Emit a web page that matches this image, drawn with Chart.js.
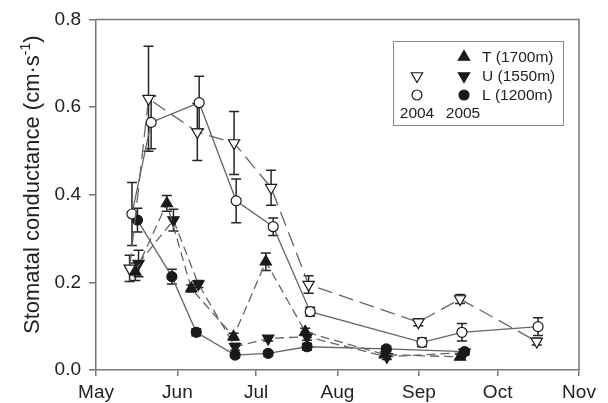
<!DOCTYPE html>
<html>
<head>
<meta charset="utf-8">
<script src="https://cdn.jsdelivr.net/npm/chart.js@4.4.0/dist/chart.umd.min.js"></script>
<style>
  html, body { margin: 0; padding: 0; background: #fff; }
  #wrap { width: 608px; height: 403px; position: relative; }
</style>
</head>
<body>
<div id="wrap"><canvas id="gsChart"></canvas></div>
<script>
// x values are days counted from 1 May
const monthNames = ['May', 'Jun', 'Jul', 'Aug', 'Sep', 'Oct', 'Nov'];
const monthStarts = [0, 31, 61, 92, 123, 153, 184];
const yTicks = [0, 0.2, 0.4, 0.6, 0.8];

// 2004, U (1550m), open triangle down
const u2004Days = [12.8, 20, 38.6, 52.6, 66.7, 81, 122.8, 138.7, 167.9];
const u2004Vals = [0.232, 0.619, 0.543, 0.518, 0.416, 0.195, 0.109, 0.162, 0.065];
const u2004Err = [0.03, 0.12, 0.065, 0.072, 0.04, 0.02, 0.008, 0.01, 0.008];

// 2004, L (1200m), open circle
const l2004Days = [13.7, 21, 39.3, 53.4, 67.5, 81.6, 124.2, 139.4, 168.4];
const l2004Vals = [0.356, 0.565, 0.61, 0.386, 0.327, 0.133, 0.063, 0.086, 0.099];
const l2004Err = [0.072, 0.06, 0.06, 0.05, 0.02, 0.01, 0.01, 0.02, 0.02];

// 2005, T (1700m), filled triangle up
const t2005Days = [15, 27, 36.3, 52.4, 64.7, 79.7, 110, 138.7];
const t2005Vals = [0.224, 0.38, 0.186, 0.076, 0.247, 0.087, 0.035, 0.03];
const t2005Err = [0.02, 0.018, 0.008, 0.008, 0.02, 0.008, 0.006, 0.006];

// 2005, U (1550m), filled triangle down
const u2005Days = [16.2, 29.5, 39, 53, 65.6, 80.4, 110.8, 140.4];
const u2005Vals = [0.243, 0.342, 0.196, 0.053, 0.072, 0.076, 0.03, 0.04];
const u2005Err = [0.03, 0.025, 0.008, 0.008, 0.006, 0.008, 0.006, 0.006];

// 2005, L (1200m), filled circle
const l2005Days = [15.8, 28.9, 38.2, 53, 65.6, 80.4, 110.6, 140.4];
const l2005Vals = [0.342, 0.213, 0.086, 0.034, 0.038, 0.053, 0.048, 0.042];
const l2005Err = [0.027, 0.017, 0.008, 0.006, 0.006, 0.008, 0.006, 0.006];

const FONT = "'Liberation Sans', Arial, sans-serif";
const AXIS = '#777';
const LINE = '#666';
const INK = '#1a1a1a';

function pts(xs, ys) {
  return xs.map((x, i) => ({ x: x, y: ys[i] }));
}

function series(label, xs, ys, errs, opts) {
  return Object.assign({
    label: label,
    data: pts(xs, ys),
    errors: errs,
    borderColor: LINE,
    borderWidth: 1.3,
    pointBorderColor: INK,
    pointBorderWidth: 1.2,
    pointRadius: 5,
    pointHoverRadius: 5,
    tension: 0,
    fill: false
  }, opts);
}

const errorBars = {
  id: 'errorBars',
  beforeDatasetsDraw(chart) {
    const ctx = chart.ctx;
    const xs = chart.scales.x, ys = chart.scales.y;
    ctx.save();
    ctx.strokeStyle = '#262626';
    ctx.lineWidth = 1.5;
    chart.data.datasets.forEach(ds => {
      ds.data.forEach((p, i) => {
        const e = ds.errors[i];
        const x = xs.getPixelForValue(p.x);
        const top = ys.getPixelForValue(p.y + e);
        const bot = ys.getPixelForValue(Math.max(0, p.y - e));
        ctx.beginPath();
        ctx.moveTo(x, top); ctx.lineTo(x, bot);
        ctx.moveTo(x - 5, top); ctx.lineTo(x + 5, top);
        ctx.moveTo(x - 5, bot); ctx.lineTo(x + 5, bot);
        ctx.stroke();
      });
    });
    ctx.restore();
  }
};

function marker(ctx, kind, x, y, filled) {
  ctx.beginPath();
  if (kind === 'circle') {
    ctx.arc(x, y, 5, 0, Math.PI * 2);
  } else {
    const r = 6.5, d = kind === 'up' ? 1 : -1;
    ctx.moveTo(x, y - d * r);
    ctx.lineTo(x + r * 0.87, y + d * r * 0.5);
    ctx.lineTo(x - r * 0.87, y + d * r * 0.5);
    ctx.closePath();
  }
  ctx.fillStyle = filled ? INK : '#fff';
  ctx.fill();
  ctx.lineWidth = 1.2;
  ctx.strokeStyle = INK;
  ctx.stroke();
}

const decorations = {
  id: 'decorations',
  afterDraw(chart) {
    const ctx = chart.ctx;
    const a = chart.chartArea;
    ctx.save();
    // top and right frame
    ctx.strokeStyle = AXIS;
    ctx.lineWidth = 1.5;
    ctx.beginPath();
    ctx.moveTo(a.left, a.top); ctx.lineTo(a.right, a.top); ctx.lineTo(a.right, a.bottom);
    ctx.stroke();

    // y axis title with superscript
    ctx.translate(33, (a.top + a.bottom) / 2 - 10);
    ctx.rotate(-Math.PI / 2);
    ctx.fillStyle = '#222';
    ctx.textBaseline = 'middle';
    const mainFont = '22px ' + FONT, supFont = '14px ' + FONT;
    const p1 = 'Stomatal conductance (cm\u00b7s', p2 = '-1', p3 = ')';
    ctx.font = mainFont; const w1 = ctx.measureText(p1).width, w3 = ctx.measureText(p3).width;
    ctx.font = supFont; const w2 = ctx.measureText(p2).width;
    let x0 = -(w1 + w2 + w3) / 2;
    ctx.font = mainFont; ctx.textAlign = 'left';
    ctx.fillText(p1, x0, 0);
    ctx.font = supFont; ctx.fillText(p2, x0 + w1, -7);
    ctx.font = mainFont; ctx.fillText(p3, x0 + w1 + w2, 0);
    ctx.restore();

    // legend box
    ctx.save();
    ctx.strokeStyle = '#8a8a8a';
    ctx.lineWidth = 1;
    ctx.fillStyle = '#fff';
    ctx.fillRect(393.5, 41.5, 170, 84);
    ctx.strokeRect(393.5, 41.5, 170, 84);
    const rows = [
      { text: 'T (1700m)', y: 57, open: null, filled: 'up' },
      { text: 'U (1550m)', y: 76, open: 'down', filled: 'down' },
      { text: 'L (1200m)', y: 95, open: 'circle', filled: 'circle' }
    ];
    ctx.font = '15.5px ' + FONT;
    ctx.textBaseline = 'middle';
    rows.forEach(r => {
      if (r.open) marker(ctx, r.open, 417, r.y, false);
      marker(ctx, r.filled, 464, r.y, true);
      ctx.fillStyle = '#222';
      ctx.textAlign = 'left';
      ctx.fillText(r.text, 482, r.y + 1);
    });
    ctx.textAlign = 'center';
    ctx.fillText('2004', 417, 114);
    ctx.fillText('2005', 463, 114);
    ctx.restore();
  }
};

const ctx = document.getElementById('gsChart').getContext('2d');
new Chart(ctx, {
  type: 'line',
  data: {
    datasets: [
      series('U 2004', u2004Days, u2004Vals, u2004Err, {
        borderDash: [15, 7], pointStyle: 'triangle', pointRotation: 180,
        pointRadius: 6.5, pointBackgroundColor: '#fff'
      }),
      series('L 2004', l2004Days, l2004Vals, l2004Err, {
        pointStyle: 'circle', pointBackgroundColor: '#fff'
      }),
      series('T 2005', t2005Days, t2005Vals, t2005Err, {
        borderDash: [9, 5], pointStyle: 'triangle', pointRadius: 6.5,
        pointBackgroundColor: INK
      }),
      series('U 2005', u2005Days, u2005Vals, u2005Err, {
        borderDash: [9, 5], pointStyle: 'triangle', pointRotation: 180,
        pointRadius: 6.5, pointBackgroundColor: INK
      }),
      series('L 2005', l2005Days, l2005Vals, l2005Err, {
        pointStyle: 'circle', pointBackgroundColor: INK
      })
    ]
  },
  options: {
    responsive: true,
    maintainAspectRatio: false,
    animation: false,
    layout: { padding: { left: 0, top: 19, right: 29, bottom: 0 } },
    plugins: {
      legend: { display: false },
      tooltip: { enabled: false }
    },
    scales: {
      x: {
        type: 'linear',
        min: 0,
        max: 184,
        afterBuildTicks: scale => { scale.ticks = monthStarts.map(v => ({ value: v })); },
        afterFit: scale => { scale.height = 33; },
        ticks: {
          callback: v => monthNames[monthStarts.indexOf(v)],
          font: { family: FONT, size: 19 },
          color: '#222',
          padding: 5,
          maxRotation: 0,
          autoSkip: false
        },
        grid: { drawOnChartArea: false, drawTicks: true, tickLength: 6, color: AXIS, lineWidth: 1.5 },
        border: { display: true, color: AXIS, width: 1.5 }
      },
      y: {
        min: 0,
        max: 0.8,
        afterBuildTicks: scale => { scale.ticks = yTicks.map(v => ({ value: v })); },
        afterFit: scale => { scale.width = 96; },
        ticks: {
          callback: v => v.toFixed(1),
          font: { family: FONT, size: 19 },
          color: '#222',
          padding: 8
        },
        grid: { drawOnChartArea: false, drawTicks: true, tickLength: 7, color: AXIS, lineWidth: 1.5 },
        border: { display: true, color: AXIS, width: 1.5 }
      }
    }
  },
  plugins: [errorBars, decorations]
});
</script>
</body>
</html>
